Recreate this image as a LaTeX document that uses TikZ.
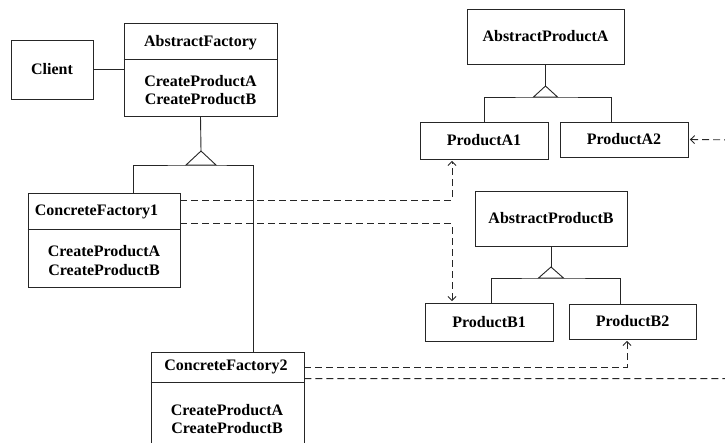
\documentclass[tikz,border=0pt]{standalone}
\usepackage{fontspec}
\setmainfont{Liberation Serif}
\usetikzlibrary{arrows.meta,positioning,calc}

\begin{document}
\begin{tikzpicture}[x=1pt, y=-1pt, font=\bfseries\fontsize{16}{18.5}\selectfont,
  color=black!85, text=black, line width=0.9pt,
  box/.style={draw, inner sep=0pt, align=center},
  dep/.style={dashed, dash pattern=on 7pt off 4pt, -{Straight Barb[length=4pt, width=8pt]}, shorten >=1.5pt},
  txt/.style={inner sep=0pt, align=center}]
\useasboundingbox (0,0) rectangle (725,442);
\clip (0,0) rectangle (725,442);
\node[box, minimum width=82pt, minimum height=59pt] (client) at (52,69.5) {Client};
\node[box, minimum width=153pt, minimum height=93pt] (af) at (200.5,69.5) {};
\node[txt] (afName) at (200.5,43) {AbstractFactory};
\node[txt] (afOps) at (200.5,90) {CreateProductA\\CreateProductB};
\draw (af.west |- 0,59) -- (af.east |- 0,59);
\node[box, minimum width=152pt, minimum height=94pt] (cf1) at (104,240) {};
\node[txt] (cf1Name) at (96.5,212) {ConcreteFactory1};
\node[txt] (cf1Ops) at (104,260.5) {CreateProductA\\CreateProductB};
\draw (cf1.west |- 0,229) -- (cf1.east |- 0,229);
\node[box, minimum width=153pt, minimum height=108pt] (cf2) at (227.5,406) {};
\node[txt] (cf2Name) at (226,367) {ConcreteFactory2};
\node[txt] (cf2Ops) at (227,419) {CreateProductA\\CreateProductB};
\draw (cf2.west |- 0,382) -- (cf2.east |- 0,382);
\node[box, minimum width=157pt, minimum height=55pt] (apa) at (545.5,36.5) {AbstractProductA};
\node[box, minimum width=128pt, minimum height=37pt] (pA1) at (484,140.5) {ProductA1};
\node[box, minimum width=128pt, minimum height=35pt] (pA2) at (624,139.5) {ProductA2};
\node[box, minimum width=152pt, minimum height=55pt] (apb) at (551,218.5) {AbstractProductB};
\node[box, minimum width=128pt, minimum height=38pt] (pB1) at (489,322) {ProductB1};
\node[box, minimum width=127pt, minimum height=35pt] (pB2) at (632.5,321.5) {ProductB2};
\coordinate (tF) at (201,165);
\coordinate (tA) at (545.5,97);
\coordinate (tB) at (551,278);
\coordinate (edgeA) at (745,140);
\draw (client) -- (af);
\draw (af.south) -- ([yshift=14pt]tF);
\draw ([xshift=29pt]cf1.north) |- (tF) -| ([xshift=25.5pt]cf2.north);
\draw[fill=white] ([xshift=-15pt]tF) -- ([yshift=14pt]tF) -- ([xshift=15pt]tF) -- cycle;
\draw (apa.south) -- ([yshift=11pt]tA);
\draw (pA1.north) |- (tA) -| ([xshift=-13pt]pA2.north);
\draw[fill=white] ([xshift=-12pt]tA) -- ([yshift=11pt]tA) -- ([xshift=12pt]tA) -- cycle;
\draw (apb.south) -- ([yshift=11pt]tB);
\draw ([xshift=2pt]pB1.north) |- (tB) -| ([xshift=-12.5pt]pB2.north);
\draw[fill=white] ([xshift=-12.5pt]tB) -- ([yshift=11pt]tB) -- ([xshift=12.5pt]tB) -- cycle;
\draw[dep] ([yshift=-8pt]cf1.north east) -| ([xshift=-32pt]pA1.south);
\draw[dep] ([yshift=-31pt]cf1.north east) -| ([xshift=-37pt]pB1.north);
\draw[dep] ([yshift=-16pt]cf2.north east) -| ([xshift=-5.5pt]pB2.south);
\draw[dep] ([yshift=-27pt]cf2.north east) -| (edgeA) -- (pA2.east);
\end{tikzpicture}
\end{document}
